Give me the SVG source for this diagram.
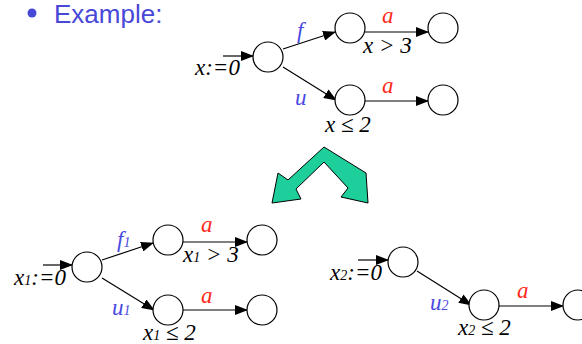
<svg xmlns="http://www.w3.org/2000/svg" width="582" height="344" viewBox="0 0 582 344">
<style>
.n{fill:#fff;stroke:#000;stroke-width:1.2}
.e{stroke:#000;stroke-width:1.2;fill:none;marker-end:url(#ah)}
.t{font-family:"Liberation Serif",serif;font-style:italic;font-size:23px;fill:#000}
.b{fill:#4a4ae0}
.r{fill:#ff2a1a}
.s{font-size:14px}
</style>
<defs>
<marker id="ah" markerWidth="13" markerHeight="10" refX="12" refY="5" orient="auto" markerUnits="userSpaceOnUse">
<path d="M0,0 L13,5 L0,10 z" fill="#000"/>
</marker>
</defs>
<circle cx="32" cy="13" r="4.5" fill="#4848d8"/>
<text x="54" y="23" font-family="Liberation Sans,Arial,sans-serif" font-size="26" fill="#4848d8">Example:</text>
<polygon points="324,147 366,173 368,203 341,197 348,188 324,162 296,189 301,199 272,203 278,173 288,180" fill="#1ecf9c" stroke="#000" stroke-width="1"/>
<g id="connectors">
<line class="e" x1="223" y1="56" x2="253" y2="56"/>
<line class="e" x1="283" y1="49" x2="335" y2="32"/>
<line class="e" x1="283" y1="67" x2="336" y2="100"/>
<line class="e" x1="365" y1="32" x2="428" y2="32"/>
<line class="e" x1="365" y1="101" x2="428" y2="101"/>
<line class="e" x1="43" y1="265" x2="72" y2="265"/>
<line class="e" x1="102" y1="260" x2="153" y2="243"/>
<line class="e" x1="102" y1="278" x2="154" y2="310"/>
<line class="e" x1="183" y1="242" x2="247" y2="242"/>
<line class="e" x1="183" y1="310" x2="247" y2="310"/>
<line class="e" x1="358" y1="260" x2="388" y2="260"/>
<line class="e" x1="417" y1="271" x2="471" y2="305"/>
<line class="e" x1="498" y1="306" x2="563" y2="306"/>
</g>
<g id="a0"><circle class="n" cx="268" cy="57" r="15"/></g>
<g id="b0"><circle class="n" cx="350" cy="28" r="15"/></g>
<g id="c0"><circle class="n" cx="443" cy="28" r="15"/></g>
<g id="d0"><circle class="n" cx="350" cy="100" r="15"/></g>
<g id="e0"><circle class="n" cx="443" cy="100" r="15"/></g>
<g id="a1"><circle class="n" cx="87" cy="267" r="15"/></g>
<g id="b1"><circle class="n" cx="168" cy="240" r="15"/></g>
<g id="c1"><circle class="n" cx="262" cy="240" r="15"/></g>
<g id="d1"><circle class="n" cx="168" cy="310" r="15"/></g>
<g id="e1"><circle class="n" cx="262" cy="310" r="15"/></g>
<g id="a2"><circle class="n" cx="403" cy="262" r="15"/></g>
<g id="d2"><circle class="n" cx="484" cy="305" r="15"/></g>
<g id="e2"><circle class="n" cx="578" cy="305" r="15"/></g>
<g id="labels">
<text class="t" x="195" y="75">x:=0</text>
<text class="t b" x="297" y="38">f</text>
<text class="t b" x="295" y="105">u</text>
<text class="t r" x="382" y="23">a</text>
<text class="t r" x="382" y="93">a</text>
<text class="t" x="363" y="53">x &gt; 3</text>
<text class="t" x="325" y="132">x ≤ 2</text>
<text class="t" x="14" y="285">x<tspan class="s">1</tspan>:=0</text>
<text class="t b" x="117" y="247">f<tspan class="s">1</tspan></text>
<text class="t b" x="112" y="315">u<tspan class="s">1</tspan></text>
<text class="t r" x="201" y="232">a</text>
<text class="t r" x="201" y="303">a</text>
<text class="t" x="183" y="262">x<tspan class="s">1</tspan> &gt; 3</text>
<text class="t" x="143" y="340">x<tspan class="s">1</tspan> ≤ 2</text>
<text class="t" x="330" y="280">x<tspan class="s">2</tspan>:=0</text>
<text class="t b" x="430" y="310">u<tspan class="s">2</tspan></text>
<text class="t r" x="517" y="298">a</text>
<text class="t" x="458" y="335">x<tspan class="s">2</tspan> ≤ 2</text>
</g>
</svg>
